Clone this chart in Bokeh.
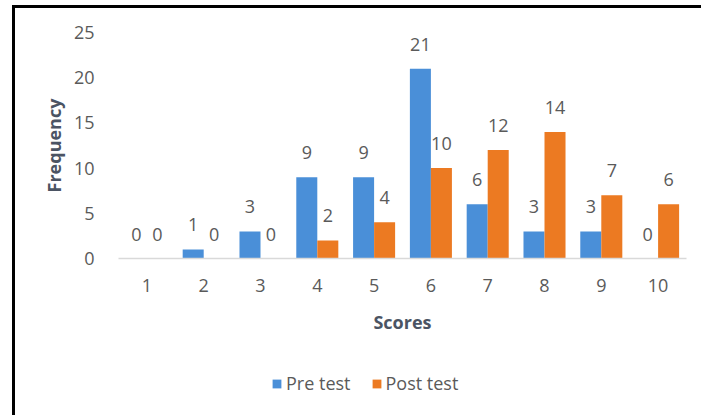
from bokeh.plotting import figure
from bokeh.layouts import column
from bokeh.models import (ColumnDataSource, FactorRange, Range1d, FixedTicker,
                          Legend, LegendItem)
from bokeh.transform import dodge
from bokeh.core.properties import value
from bokeh.embed import file_html
from bokeh.resources import INLINE

scores = ["1", "2", "3", "4", "5", "6", "7", "8", "9", "10"]
pre_test = [0, 1, 3, 9, 9, 21, 6, 3, 3, 0]
post_test = [0, 0, 0, 2, 4, 10, 12, 14, 7, 6]
y_ticks = [0, 5, 10, 15, 20, 25]
series_names = ["Pre test", "Post test"]

FONT = "Open Sans"
TICK_COLOR = "#5A5A5A"
TITLE_COLOR = "#4B5463"
BLUE = "#4A8FD8"
ORANGE = "#EC7A22"

src = ColumnDataSource(dict(x=scores, pre=pre_test, post=post_test,
                            pre_lbl=[str(v) for v in pre_test],
                            post_lbl=[str(v) for v in post_test]))

p = figure(x_range=FactorRange(factors=scores, range_padding=0),
           y_range=Range1d(0, 25),
           frame_width=568, frame_height=226,
           min_border_left=103, min_border_right=15,
           min_border_top=24, min_border_bottom=100,
           output_backend="svg", toolbar_location=None,
           background_fill_color="white", border_fill_color="white")
p.outline_line_color = None
p.grid.grid_line_color = None

bw = 0.37
p.vbar(x=dodge("x", -bw / 2, range=p.x_range), top="pre", width=bw,
       source=src, fill_color=BLUE, line_color=None)
p.vbar(x=dodge("x", bw / 2, range=p.x_range), top="post", width=bw,
       source=src, fill_color=ORANGE, line_color=None)

p.text(x=dodge("x", -bw / 2, range=p.x_range), y="pre", text="pre_lbl",
       source=src, text_align="center", text_baseline="bottom", y_offset=-18,
       text_font=value(FONT), text_font_size="18px", text_color=TICK_COLOR)
p.text(x=dodge("x", bw / 2, range=p.x_range), y="post", text="post_lbl",
       source=src, text_align="center", text_baseline="bottom", y_offset=-18,
       text_font=value(FONT), text_font_size="18px", text_color=TICK_COLOR)

# axes
p.yaxis.ticker = FixedTicker(ticks=y_ticks)
for ax in (p.xaxis, p.yaxis):
    ax.major_tick_line_color = None
    ax.minor_tick_line_color = None
    ax.major_label_text_font = FONT
    ax.major_label_text_font_size = "18px"
    ax.major_label_text_color = TICK_COLOR
    ax.axis_label_text_font = FONT
    ax.axis_label_text_font_size = "18px"
    ax.axis_label_text_font_style = "bold"
    ax.axis_label_text_color = TITLE_COLOR
p.yaxis.axis_line_color = None
p.xaxis.axis_line_color = "#D9D9D9"
p.xaxis.axis_line_width = 1.5
p.yaxis.major_label_standoff = 18
p.xaxis.major_label_standoff = 14
p.yaxis.axis_label = "Frequency"
p.xaxis.axis_label = "Scores"
p.yaxis.axis_label_standoff = 5
p.xaxis.axis_label_standoff = 15

# legend strip below the chart (swatch renderers sit outside its visible range)
lg = figure(width=686, height=57, x_range=Range1d(0, 1), y_range=Range1d(0, 1),
            min_border=0, output_backend="svg", toolbar_location=None,
            background_fill_color="white", border_fill_color="white")
lg.axis.visible = False
lg.grid.grid_line_color = None
lg.outline_line_color = None
swatch = ColumnDataSource(dict(x=[-10], top=[-10]))
r_pre = lg.vbar(x="x", top="top", width=0.1, source=swatch,
                fill_color=BLUE, line_color=None)
r_post = lg.vbar(x="x", top="top", width=0.1, source=swatch,
                 fill_color=ORANGE, line_color=None)
legend = Legend(items=[LegendItem(label=series_names[0], renderers=[r_pre]),
                       LegendItem(label=series_names[1], renderers=[r_post])],
                orientation="horizontal", location=(153, 20),
                glyph_width=11, glyph_height=11, label_standoff=4, spacing=20,
                padding=0, margin=0, border_line_color=None,
                background_fill_alpha=0,
                label_text_font=FONT, label_text_font_size="18px",
                label_text_color=TICK_COLOR, label_height=20)
lg.add_layout(legend, "center")

layout = column(p, lg, spacing=0,
                styles={"border-left": "3px solid black",
                        "border-top": "3px solid black",
                        "margin-left": "12px", "margin-top": "5px",
                        "background-color": "white"})

open("out.html", "w").write(file_html(layout, INLINE))
